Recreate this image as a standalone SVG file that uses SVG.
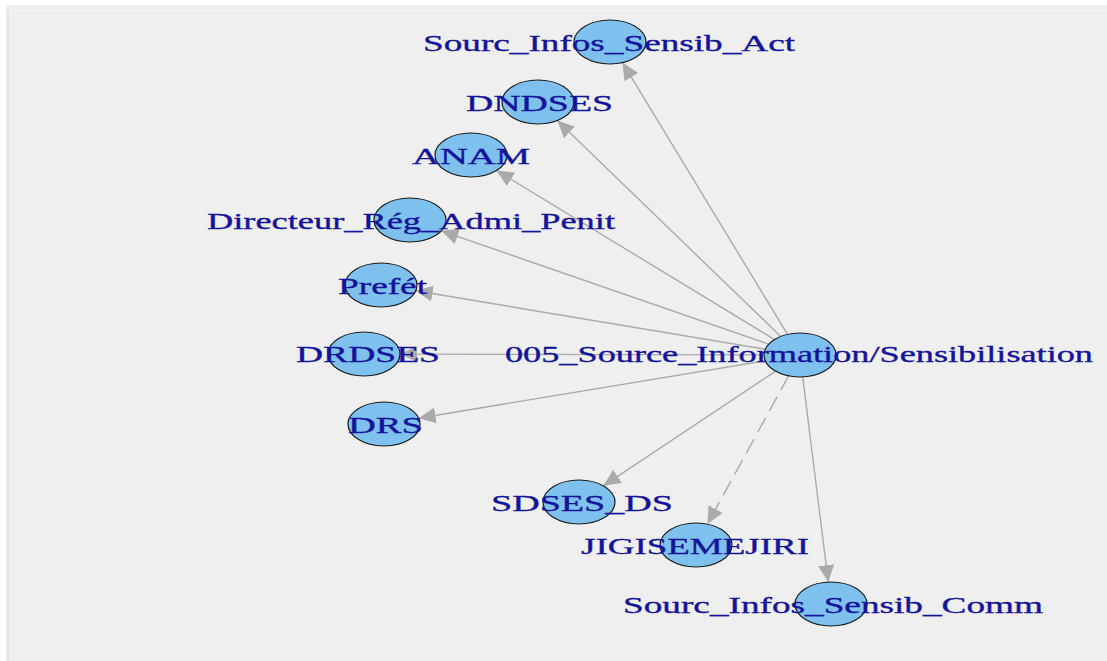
<svg xmlns="http://www.w3.org/2000/svg" width="1107" height="661" viewBox="0 0 1107 661">
<style>
.node{fill:#7ec0ee;stroke:#1a1a1a;stroke-width:1.2}
.lbl{font-family:"Liberation Serif","Times New Roman",serif;font-size:24px;fill:#14149a;stroke:#14149a;stroke-width:0.35}
.edge{stroke:#aaaaaa;stroke-width:1.4;fill:none;marker-end:url(#arr)}
.dash{stroke-dasharray:16 8}
</style>
<defs>
<marker id="arr" markerUnits="userSpaceOnUse" markerWidth="20" markerHeight="18" refX="17" refY="8" orient="auto">
<path d="M0,0 L17,8 L0,16 z" fill="#aaaaaa"/>
</marker>
</defs>
<rect x="0" y="0" width="1107" height="661" fill="#ffffff"/>
<rect x="6" y="5" width="1101" height="656" fill="#efefef"/>
<rect x="7" y="10" width="2" height="651" fill="#e4e4e4"/>
<rect x="9" y="10" width="1098" height="1" fill="#f6f6f6"/>
<g id="edges">
<line class="edge" x1="787.5" y1="334.4" x2="622.5" y2="62.6"/>
<line class="edge" x1="780.7" y1="336.4" x2="557.3" y2="120.6"/>
<line class="edge" x1="774.5" y1="339.5" x2="496.5" y2="170.5"/>
<line class="edge" x1="768.7" y1="344.2" x2="441.3" y2="230.8"/>
<line class="edge" x1="765.3" y1="349.2" x2="415.7" y2="290.8"/>
<line class="edge" x1="764" y1="354.9" x2="400" y2="354.1"/>
<line class="edge" x1="765.3" y1="360.8" x2="418.7" y2="418.2"/>
<line class="edge" x1="775.6" y1="371.2" x2="603.4" y2="485.8"/>
<line class="edge dash" x1="788.6" y1="375.9" x2="707.4" y2="524.1"/>
<line class="edge" x1="802.7" y1="376.9" x2="828.3" y2="582.1"/>
</g>
<g id="n_act"><ellipse class="node" cx="610" cy="42" rx="36" ry="22"/></g>
<g id="n_dndses"><ellipse class="node" cx="538" cy="102" rx="36" ry="22"/></g>
<g id="n_anam"><ellipse class="node" cx="471" cy="155" rx="36" ry="22"/></g>
<g id="n_dir"><ellipse class="node" cx="410" cy="220" rx="36" ry="22"/></g>
<g id="n_pref"><ellipse class="node" cx="381" cy="285" rx="36" ry="22"/></g>
<g id="n_drdses"><ellipse class="node" cx="364" cy="354" rx="36" ry="22"/></g>
<g id="n_drs"><ellipse class="node" cx="384" cy="424" rx="36" ry="22"/></g>
<g id="n_sdses"><ellipse class="node" cx="579" cy="502" rx="36" ry="22"/></g>
<g id="n_jigi"><ellipse class="node" cx="696" cy="545" rx="36" ry="22"/></g>
<g id="n_comm"><ellipse class="node" cx="831" cy="604" rx="36" ry="22"/></g>
<g id="n_center"><ellipse class="node" cx="800" cy="355" rx="36" ry="22"/></g>
<g id="labels">
<text class="lbl" x="423" y="51" textLength="372" lengthAdjust="spacingAndGlyphs">Sourc_Infos_Sensib_Act</text>
<text class="lbl" x="466" y="111" textLength="147" lengthAdjust="spacingAndGlyphs">DNDSES</text>
<text class="lbl" x="412" y="164" textLength="118" lengthAdjust="spacingAndGlyphs">ANAM</text>
<text class="lbl" x="207" y="229" textLength="408" lengthAdjust="spacingAndGlyphs">Directeur_Rég_Admi_Penit</text>
<text class="lbl" x="338" y="294" textLength="89" lengthAdjust="spacingAndGlyphs">Prefét</text>
<text class="lbl" x="296" y="362" textLength="144" lengthAdjust="spacingAndGlyphs">DRDSES</text>
<text class="lbl" x="505" y="362" textLength="588" lengthAdjust="spacingAndGlyphs">005_Source_Information/Sensibilisation</text>
<text class="lbl" x="348" y="433" textLength="75" lengthAdjust="spacingAndGlyphs">DRS</text>
<text class="lbl" x="491" y="511" textLength="182" lengthAdjust="spacingAndGlyphs">SDSES_DS</text>
<text class="lbl" x="581" y="554" textLength="228" lengthAdjust="spacingAndGlyphs">JIGISEMEJIRI</text>
<text class="lbl" x="623" y="613" textLength="420" lengthAdjust="spacingAndGlyphs">Sourc_Infos_Sensib_Comm</text>
</g>
</svg>
